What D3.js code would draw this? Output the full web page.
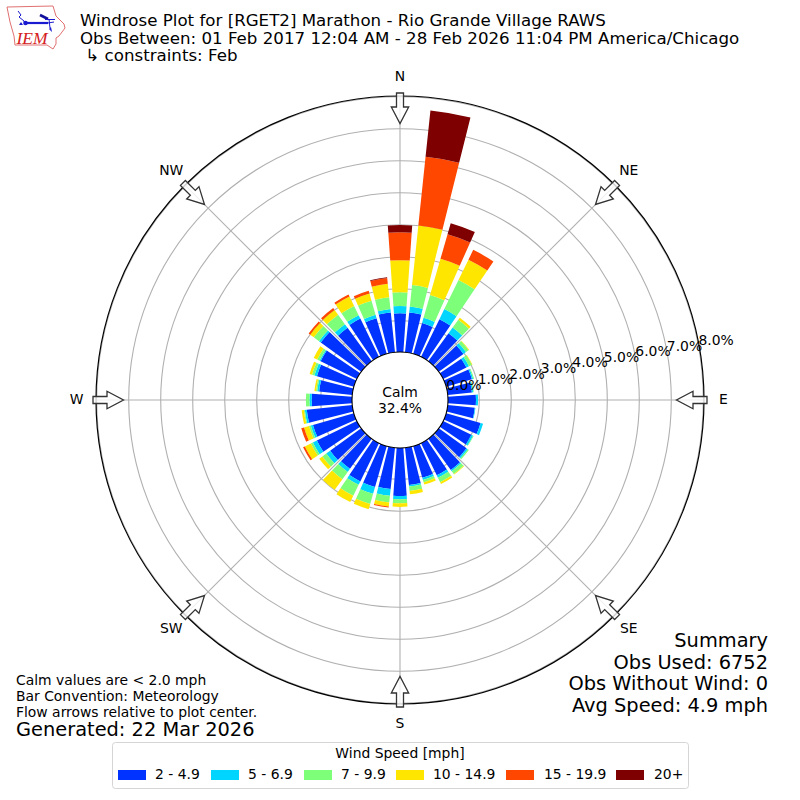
<!DOCTYPE html>
<html><head><meta charset="utf-8">
<style>html,body{margin:0;padding:0;background:#fff}svg{display:block;font-family:"DejaVu Sans",sans-serif}</style>
<script src="https://cdn.jsdelivr.net/npm/d3@7"></script></head>
<body><svg id="c" width="800" height="800"></svg>
<script>
const directions = d3.range(0, 360, 10);
const speedBins = ["2 - 4.9","5 - 6.9","7 - 9.9","10 - 14.9","15 - 19.9","20+"];
const binColors = ["#0033ff","#00d5ff","#7dff7a","#ffe600","#ff4700","#7f0000"];
const s2to5   = [1.21,1.25,1.0,1.31,1.08,.95,.81,.84,.76,.875,.85,1.12,.98,1.07,1.2,1.12,1.03,1.17,1.5,1.3,1.33,1.33,1.16,1.2,1.39,1.33,1.43,1.26,1.04,1.2,1.26,1.56,1.29,1.33,1.16,1.25];
const s5to7   = [.23,.19,.17,.35,.22,.1,.09,.04,.04,.065,.02,.08,.06,.05,.05,.08,.07,.05,.1,.21,.22,.12,.12,.15,.14,.07,.06,.07,.06,.08,.04,.07,.14,.12,.11,.11];
const s7to10  = [.43,.67,.74,1.01,.3,.1,.1,.03,.02,0,0,0,.02,.04,.11,.16,.08,.14,.13,.21,.33,.38,.28,.15,.07,.06,.03,.11,.04,.08,.08,.2,.36,.32,.46,.37];
const s10to15 = [1.0,1.87,1.18,.71,.08,.02,.02,0,0,0,0,0,0,0,.02,.06,.07,.1,.11,.13,.17,.22,.41,.12,.21,.16,.07,0,.05,.08,.12,.14,.19,.33,.23,.42];
const s15to20 = [.87,2.16,.8,.34,0,0,0,0,0,0,0,0,0,0,0,0,0,0,0,.03,0,0,0,0,.06,.09,0,0,0,0,0,.06,.07,.07,.09,.18];
const s20plus = [.23,1.46,.36,0,0,0,0,0,0,0,0,0,0,0,0,0,0,0,0,0,0,0,0,0,0,0,0,0,0,0,0,0,0,0,0,.03];
const series = [s2to5,s5to7,s7to10,s10to15,s15to20,s20plus];
const rTicks = [0,1,2,3,4,5,6,7,8];
const compass = ["N","NE","E","SE","S","SW","W","NW"];
const compassAngles = [0,45,90,135,180,225,270,315];
const titleLines = ["Windrose Plot for [RGET2] Marathon - Rio Grande Village RAWS","Obs Between: 01 Feb 2017 12:04 AM - 28 Feb 2026 11:04 PM America/Chicago"," \u21B3 constraints: Feb"];
const notes = ["Calm values are < 2.0 mph","Bar Convention: Meteorology","Flow arrows relative to plot center."];
const summary = ["Summary","Obs Used: 6752","Obs Without Wind: 0","Avg Speed: 4.9 mph"];

const svg = d3.select("#c");
const cx=400, cy=400;
const r = d3.scaleLinear().domain([0,8]).range([48,304]);
const rad = d=>d*Math.PI/180;
const plot = svg.append("g").attr("transform",`translate(${cx},${cy})`);

// grid
plot.selectAll("circle.g").data(rTicks.slice(1)).join("circle").attr("r",d=>r(d)-0.7).attr("fill","none").attr("stroke","#b0b0b0").attr("stroke-width",1.1);
plot.selectAll("line.g").data(compassAngles).join("line")
  .attr("x1",0).attr("y1",0)
  .attr("x2",d=>r(8)*Math.sin(rad(d))).attr("y2",d=>-r(8)*Math.cos(rad(d)))
  .attr("stroke","#b0b0b0").attr("stroke-width",1.1);
plot.append("circle").attr("r",r(8)).attr("fill","none").attr("stroke","#000").attr("stroke-width",1.2);

// bars
const arc = d3.arc();
series.forEach((vals,si)=>{
  plot.append("g").selectAll("path").data(directions).join("path")
    .attr("fill",binColors[si])
    .attr("d",(dir,i)=>{
      let base=0; for(let k=0;k<si;k++) base+=series[k][i];
      return arc({innerRadius:r(base),outerRadius:r(base+vals[i]),startAngle:rad(dir-4),endAngle:rad(dir+4)});
    });
});

// center
plot.append("circle").attr("r",r(0)).attr("fill","#fff").attr("stroke","#000").attr("stroke-width",1.1);
plot.append("text").attr("y",-3).attr("text-anchor","middle").attr("font-size",13.9).attr("fill","#000").text("Calm");
plot.append("text").attr("y",12.5).attr("text-anchor","middle").attr("font-size",13.9).attr("fill","#000").text("32.4%");

// arrows
const arrowPts = [[-3.5,-307],[3.5,-307],[3.5,-293],[8.7,-293],[0,-276.5],[-8.7,-293],[-3.5,-293]];
plot.selectAll("path.arrow").data(compassAngles).join("path")
  .attr("d",d3.line()(arrowPts)+"Z")
  .attr("transform",d=>`rotate(${d})`)
  .attr("fill","#fff").attr("fill-opacity",0.8)
  .attr("stroke","#333").attr("stroke-width",1.3);

// compass labels
plot.selectAll("text.c").data(compass).join("text")
  .attr("x",(d,i)=>323.5*Math.sin(rad(compassAngles[i])))
  .attr("y",(d,i)=>-323.5*Math.cos(rad(compassAngles[i]))+4)
  .attr("text-anchor","middle").attr("font-size",13.9).attr("fill","#000").text(d=>d);

// r labels
plot.selectAll("text.r").data(rTicks).join("text")
  .attr("x",d=>r(d)*Math.cos(rad(10))-1).attr("y",d=>-r(d)*Math.sin(rad(10))-2)
  .attr("font-size",13.9).attr("fill","#000").text(d=>d.toFixed(1)+"%");

// titles
titleLines.forEach((t,i)=>svg.append("text").attr("x",80).attr("y",[26,44,61][i]).attr("font-size",16.67).attr("fill","#000").attr("xml:space","preserve").style("white-space","pre").text(t));
notes.forEach((t,i)=>svg.append("text").attr("x",16).attr("y",[685,701,717][i]).attr("font-size",13.9).attr("fill","#000").text(t));
svg.append("text").attr("x",16).attr("y",736).attr("font-size",19.4).attr("fill","#000").text("Generated: 22 Mar 2026");
summary.forEach((t,i)=>svg.append("text").attr("x",768).attr("y",[647,669,690,712][i]).attr("text-anchor","end").attr("font-size",19.4).attr("fill","#000").text(t));

// legend
svg.append("rect").attr("x",112.5).attr("y",742.5).attr("width",576).attr("height",46).attr("rx",3).attr("fill","#fff").attr("stroke","#d5d5d5");
svg.append("text").attr("x",400).attr("y",758).attr("text-anchor","middle").attr("font-size",13.9).attr("fill","#000").text("Wind Speed [mph]");
const swatchX=[118,211,304,396,506,616];
const labelX=[155,248,341,433,544,654];
speedBins.forEach((t,i)=>{
  svg.append("rect").attr("x",swatchX[i]).attr("y",770).attr("width",28).attr("height",10).attr("fill",binColors[i]);
  svg.append("text").attr("x",labelX[i]).attr("y",779).attr("font-size",13.9).attr("fill","#000").text(t);
});

// logo
const logo = svg.append("g");
logo.append("path").attr("d","M7 7 L53 6 L56 16 L64 24 L65 28 L59 36 L56 38 L56 44 L53 49 L47 45 L15 45 L14 36 L10 22 Z").attr("fill","#fff").attr("stroke","#e07070").attr("stroke-width",1);
logo.append("path").attr("d","M25 23 L48 23").attr("fill","none").attr("stroke","#1a1ad0").attr("stroke-width",2.2);
logo.append("path").attr("d","M40 15 L48 19").attr("fill","none").attr("stroke","#10109a").attr("stroke-width",2.6);
logo.append("path").attr("d","M45 19.5 L55 19.5 M48 23 L54 22 M49 19 L50 28 M18 11 L21 15 L19 17 L24 21 L25 24").attr("fill","none").attr("stroke","#1a1ad0").attr("stroke-width",1);
logo.append("circle").attr("cx",25.5).attr("cy",23).attr("r",2.3).attr("fill","#1a1ad0");
logo.append("path").attr("d","M19 25 L21 22 L23 25 Z M49 29 L51 27 L52 32 Z").attr("fill","#1a1ad0");
logo.append("text").attr("x",16.5).attr("y",44).attr("font-family","Liberation Serif").attr("font-style","italic").attr("font-size",17.5).attr("fill","#d42020").text("IEM");
</script></body></html>
